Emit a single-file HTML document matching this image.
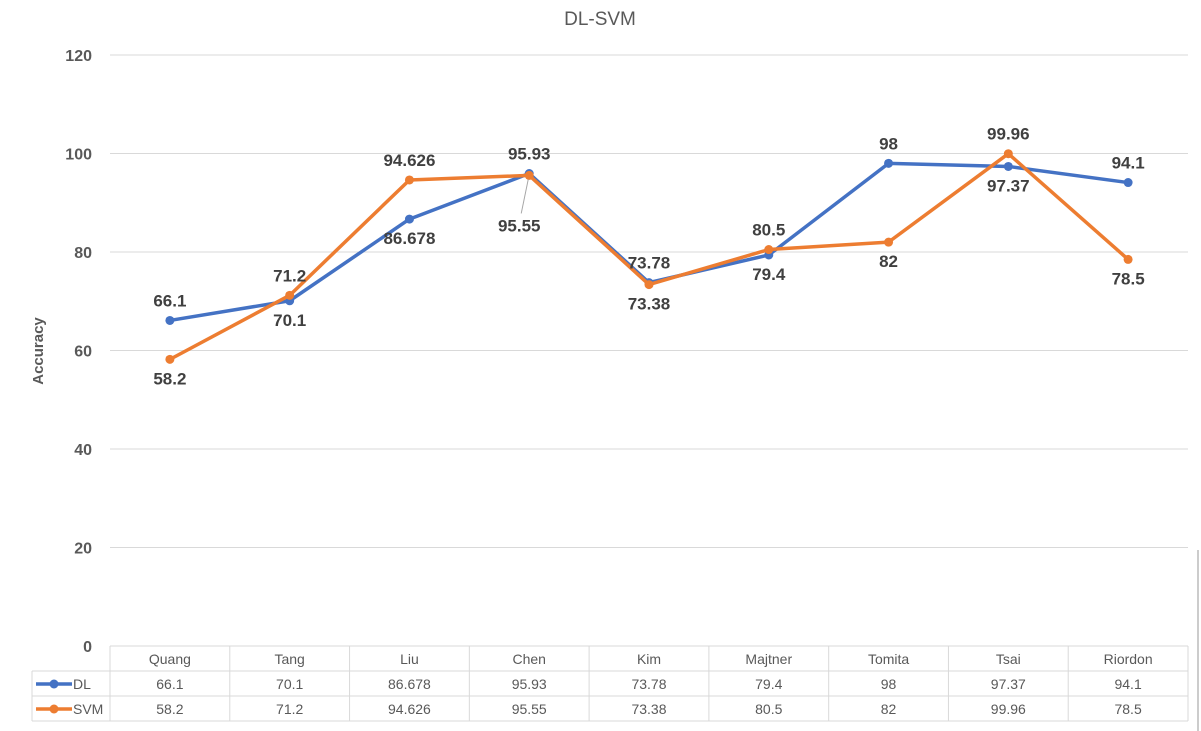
<!DOCTYPE html>
<html><head><meta charset="utf-8"><style>
body{margin:0;background:#fff;font-family:"Liberation Sans",sans-serif;}
svg{display:block}
</style></head><body>
<svg id="c" width="1201" height="731">
<text x="600" y="25" text-anchor="middle" font-size="19" fill="#595959">DL-SVM</text>
<text transform="translate(43,351) rotate(-90)" text-anchor="middle" font-size="15" font-weight="bold" fill="#595959">Accuracy</text>
<line x1="1198" y1="550" x2="1198" y2="731" stroke="#ccc" stroke-width="2"/>
<g id="grid"></g><g id="table"></g><g id="series"></g><g id="labels"></g>
</svg>
<script>
const categories=["Quang","Tang","Liu","Chen","Kim","Majtner","Tomita","Tsai","Riordon"];
const dlValues=[66.1,70.1,86.678,95.93,73.78,79.4,98,97.37,94.1];
const svmValues=[58.2,71.2,94.626,95.55,73.38,80.5,82,99.96,78.5];
const dlLabelPos=["a","b","b","a","a","b","a","b","a"];
const svmLabelPos=["b","a","a","bb","b","a","b","a","b"];
const yTicks=[0,20,40,60,80,100,120];
const NS="http://www.w3.org/2000/svg";
const X0=110,X1=1188,colW=(X1-X0)/categories.length;
const xs=i=>X0+colW*(i+0.5);
const ys=v=>646-v*(591/120);
function mk(tag,attrs,parent){const e=document.createElementNS(NS,tag);for(const k in attrs)e.setAttribute(k,attrs[k]);parent.appendChild(e);return e;}
const grid=document.getElementById('grid');
yTicks.forEach(t=>{
 const l=mk('line',{x1:X0,x2:X1,y1:ys(t),y2:ys(t),stroke:'#d9d9d9','stroke-width':1},grid);
 
 
 const tx=mk('text',{x:92,y:ys(t)+6,'text-anchor':'end','font-size':16,'font-weight':'bold',fill:'#595959'},grid);
 tx.textContent=t;
 
 
});
const tb=document.getElementById('table');
const st={stroke:'#d9d9d9','stroke-width':1};
[671,696,721].forEach(y=>mk('line',Object.assign({x1:32,x2:X1,y1:y,y2:y},st),tb));
mk('line',Object.assign({x1:32,x2:32,y1:671,y2:721},st),tb);
for(let i=0;i<=categories.length;i++)mk('line',Object.assign({x1:X0+colW*i,x2:X0+colW*i,y1:646,y2:721},st),tb);
categories.forEach((c,i)=>{
 const t=mk('text',{x:xs(i),y:664,'text-anchor':'middle','font-size':14,fill:'#595959'},tb);t.textContent=c;
 
 
 const a=mk('text',{x:xs(i),y:689,'text-anchor':'middle','font-size':14,fill:'#595959'},tb);a.textContent=dlValues[i];
 
 
 const b=mk('text',{x:xs(i),y:714,'text-anchor':'middle','font-size':14,fill:'#595959'},tb);b.textContent=svmValues[i];
 
 
});
[["DL","#4472c4",684],["SVM","#ed7d31",709]].forEach(([n,col,y])=>{
 const g=mk('g',{},tb);
 
 
 mk('line',{x1:36,x2:72,y1:y,y2:y,stroke:col,'stroke-width':3.5},g);
 mk('circle',{cx:54,cy:y,r:4.5,fill:col},g);
 const t=mk('text',{x:73,y:y+5,'font-size':14,fill:'#595959'},g);t.textContent=n;
});
const se=document.getElementById('series'),lb=document.getElementById('labels');
[[dlValues,"#4472c4","dl",dlLabelPos],[svmValues,"#ed7d31","svm",svmLabelPos]].forEach(([vals,col,n,pos])=>{
 const p=mk('polyline',{points:vals.map((v,i)=>xs(i)+','+ys(v)).join(' '),fill:'none',stroke:col,'stroke-width':3.5,'stroke-linejoin':'round'},se);
 
 
 vals.forEach((v,i)=>{
  const c=mk('circle',{cx:xs(i),cy:ys(v),r:4.5,fill:col},se);
  
  
  let dx=0,dy=pos[i]==="a"?-14:25;
  if(pos[i]==="bb"){dx=-10;dy=56;
   const ll=mk('line',{x1:xs(i)-8,y1:ys(v)+38,x2:xs(i)-1,y2:ys(v)+4,stroke:'#a6a6a6','stroke-width':1},lb);
   
   
  }
  const t=mk('text',{x:xs(i)+dx,y:ys(v)+dy,'text-anchor':'middle','font-size':17,'font-weight':'bold',fill:'#404040'},lb);
  t.textContent=v;
  
  
 });
});
</script>
</body></html>
